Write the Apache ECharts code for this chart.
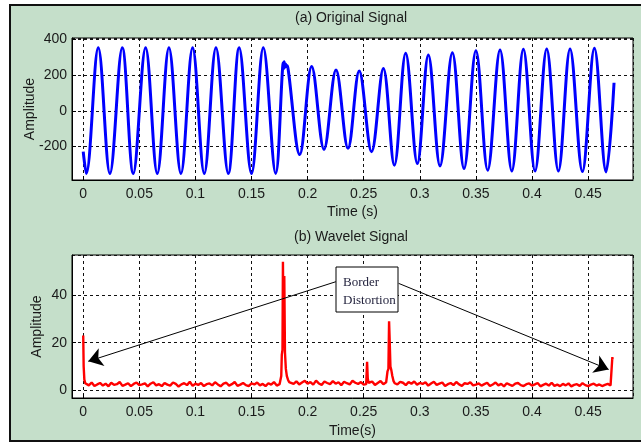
<!DOCTYPE html>
<html>
<head>
<meta charset="utf-8">
<script src="https://cdn.jsdelivr.net/npm/echarts@6/dist/echarts.min.js"></script>
<style>
  html, body { margin: 0; padding: 0; background: #fff; }
  #frame {
    position: absolute; left: 9px; top: 4px; width: 632px; height: 438px;
    box-sizing: border-box; background: #c5dfca;
    border-left: 2px solid #111; border-top: 2px solid #111; border-bottom: 2px solid #111;
  }
  #chart { position: absolute; left: 0; top: 0; width: 641px; height: 443px; }
</style>
</head>
<body>
<div id="frame"></div>
<div id="chart"></div>
<script>
// (a) original signal: extremes, [time s, amplitude]
const originalSignal = [
  [0, -228],
  [0.0027, -350], [0.0134, 352], [0.0238, -351], [0.0348, 352], [0.0446, -350],
  [0.0556, 352], [0.0660, -351], [0.0764, 352], [0.0871, -350], [0.0975, 352],
  [0.1079, -351], [0.1183, 352], [0.1293, -350], [0.1390, 352], [0.1500, -351],
  [0.1605, 352], [0.1715, -350],
  [0.1776, 230], [0.1781, 268], [0.1786, 236], [0.1791, 274], [0.1797, 242],
  [0.1803, 262], [0.1810, 248], [0.1818, 252], [0.1828, 225],
  [0.1930, -245], [0.2036, 247], [0.2146, -216], [0.2253, 228], [0.2360, -210],
  [0.2460, 222], [0.2570, -229], [0.2675, 237], [0.2773, -304], [0.2874, 322],
  [0.2978, -295], [0.3076, 312], [0.3180, -308], [0.3290, 325], [0.3394, -323],
  [0.3500, 336], [0.3605, -332], [0.3715, 340], [0.3820, -336], [0.3923, 344],
  [0.4027, -336], [0.4131, 346], [0.4235, -337], [0.4339, 346], [0.4449, -340],
  [0.4556, 350], [0.4660, -342], [0.4731, 157]
];

// (b) wavelet signal: baseline samples every 2.5 ms, plus the spikes
const waveletStep = 0.0025;
const waveletBaseline = [
  2.7, 2.1, 3.3, 1.8, 2.5, 3.1, 2.0, 2.8, 1.7, 3.2, 2.3, 2.6, 3.5, 1.9, 2.4, 3.0, 1.8, 2.7, 3.3, 2.2,
  2.5, 2.9, 1.7, 2.8, 3.4, 2.1, 2.6, 1.8, 3.1, 2.4, 2.0, 3.3, 2.7, 1.6, 2.5, 3.0, 2.2, 3.6, 1.9, 2.8,
  2.3, 3.1, 1.8, 2.6, 2.9, 2.1, 3.4, 2.5, 1.7, 2.8, 3.2, 2.0, 2.6, 3.5, 1.9, 2.4, 3.1, 2.2, 1.8, 2.9,
  2.5, 3.3, 2.1, 2.7, 1.8, 3.0, 2.4, 3.5, 2.0, 2.6, 3.2, 2.3, 3.9, 3.1, 2.7, 3.8, 2.5, 3.3, 4.0, 2.8,
  3.5, 2.4, 4.1, 2.9, 2.3, 3.7, 3.1, 2.6, 3.9, 2.8, 3.4, 2.2, 3.6, 3.0, 2.5, 4.0, 3.2, 2.7, 3.5, 2.4,
  3.3, 2.8, 3.7, 2.3, 3.1, 3.9, 2.6, 3.4, 2.1, 3.8, 2.9, 2.5, 3.6, 3.2, 2.2, 3.5, 2.8, 3.7, 2.4, 3.1,
  2.7, 3.4, 2.0, 2.9, 3.6, 2.3, 2.8, 3.3, 1.8, 2.6, 3.1, 2.2, 3.5, 2.5, 1.9, 3.0, 2.7, 3.4, 2.1, 2.4,
  2.9, 2.0, 2.6, 3.2, 1.8, 2.5, 3.3, 2.1, 2.7, 1.7, 3.0, 2.4, 1.9, 2.8, 3.1, 2.2, 1.8, 2.6, 2.9, 2.0,
  2.5, 3.1, 1.7, 2.3, 2.8, 2.0, 3.2, 1.9, 2.4, 1.8, 2.7, 2.1, 2.9, 1.7, 2.3, 2.6, 1.9, 3.0, 2.2, 1.8,
  2.4, 2.8, 2.0, 2.5, 1.8, 2.3, 2.7, 2.1
];
const spikeStart = [[0, 23], [0.0004, 10], [0.0010, 4.5], [0.0018, 3]];
const spikeSag = [
  [0.1755, 2.8], [0.1765, 6], [0.1770, 15], [0.1776, 17], [0.1780, 54], [0.1786, 20],
  [0.1792, 48], [0.1798, 16], [0.1806, 9], [0.1815, 6], [0.1825, 4.5], [0.1835, 3.5]
];
const spikeRecover1 = [[0.2522, 2.6], [0.2530, 12], [0.2536, 5], [0.2543, 3.2]];
const spikeRecover2 = [
  [0.2702, 3.2], [0.2712, 8], [0.2720, 9], [0.2726, 29], [0.2732, 20], [0.2738, 10],
  [0.2746, 8.5], [0.2755, 6], [0.2765, 4], [0.2776, 3]
];
const spikeEnd = [[0.4706, 2.0], [0.4712, 2.4], [0.4716, 14], [0.4718, 13]];

// annotation arrows: [from (box edge), to (arrow tip)] in data coords
const arrowLines = [
  [[0.2252, 45.6], [0.0045, 12.2]],
  [[0.2811, 44.9], [0.4683, 8.8]]
];

const timeRange = [-0.01, 0.49];
const originalRange = [-387, 407];
const waveletRange = [-3.2, 56.8];

const spikes = [spikeStart, spikeSag, spikeRecover1, spikeRecover2, spikeEnd];
const waveletData = [];
waveletBaseline.forEach((v, i) => {
  const t = +(waveletStep * (i + 1)).toFixed(4);
  const inSpike = spikes.some(s => t >= s[0][0] && t <= s[s.length - 1][0]);
  if (!inSpike) waveletData.push([t, v]);
});
spikes.forEach(s => waveletData.push(...s));
waveletData.sort((a, b) => a[0] - b[0]);

const chart = echarts.init(document.getElementById('chart'));

const textColor = '#1a1a1a';
const font = 'Liberation Sans';

const xAxisBase = (gridIndex, name, nameGap) => ({
  gridIndex,
  type: 'value',
  min: timeRange[0],
  max: timeRange[1],
  splitNumber: 10,
  name,
  nameLocation: 'middle',
  nameGap,
  nameMoveOverlap: false,
  nameTextStyle: { fontSize: 14, color: textColor, fontFamily: font },
  axisLine: { show: true, onZero: false, lineStyle: { color: '#000', width: 1 } },
  axisTick: { show: true, inside: true, length: 4, lineStyle: { color: '#000' } },
  axisLabel: { showMinLabel: false, showMaxLabel: false, fontSize: 14, color: textColor, fontFamily: font, margin: 7 },
  splitLine: { show: true, lineStyle: { color: '#111', width: 1, type: [3, 3] } }
});

const yAxisBase = (gridIndex, range, splitNumber, nameGap) => ({
  gridIndex,
  type: 'value',
  min: range[0],
  max: range[1],
  splitNumber,
  name: 'Amplitude',
  nameLocation: 'middle',
  nameGap,
  nameMoveOverlap: false,
  nameTextStyle: { fontSize: 14, color: textColor, fontFamily: font },
  axisLine: { show: true, onZero: false, lineStyle: { color: '#000', width: 1 } },
  axisTick: { show: true, inside: true, length: 4, lineStyle: { color: '#000' } },
  axisLabel: { showMinLabel: false, showMaxLabel: false, fontSize: 14, color: textColor, fontFamily: font, margin: 5 },
  splitLine: { show: true, lineStyle: { color: '#111', width: 1, type: [3, 3] } }
});

const option = {
  animation: false,
  grid: [
    { left: 72, top: 38, width: 561, height: 142, show: true, backgroundColor: '#fff', borderColor: '#000', borderWidth: 1, outerBoundsMode: 'none' },
    { left: 72, top: 255, width: 561, height: 143, show: true, backgroundColor: '#fff', borderColor: '#000', borderWidth: 1, outerBoundsMode: 'none' }
  ],
  xAxis: [xAxisBase(0, 'Time (s)', 25), xAxisBase(1, 'Time(s)', 26)],
  yAxis: [yAxisBase(0, originalRange, 4, 35), yAxisBase(1, waveletRange, 3, 28)],
  series: [
    {
      type: 'line',
      xAxisIndex: 0,
      yAxisIndex: 0,
      data: originalSignal,
      smooth: 0.36,
      showSymbol: false,
      lineStyle: { color: '#0000ff', width: 3 }
    },
    {
      type: 'line',
      xAxisIndex: 1,
      yAxisIndex: 1,
      data: waveletData,
      showSymbol: false,
      lineStyle: { color: '#ff0000', width: 2.4 },
      markLine: {
        silent: true,
        animation: false,
        symbol: ['none', 'arrow'],
        symbolSize: 14,
        label: { show: false },
        lineStyle: { color: '#000', width: 1, type: 'solid' },
        emphasis: { disabled: true },
        data: arrowLines.map(([from, to]) => [{ coord: from }, { coord: to }])
      }
    }
  ],
  graphic: [
    { type: 'text', x: 351, y: 18, style: { text: '(a) Original Signal', align: 'center', verticalAlign: 'middle', font: '14px "Liberation Sans"', fill: textColor } },
    { type: 'text', x: 351, y: 237, style: { text: '(b) Wavelet Signal', align: 'center', verticalAlign: 'middle', font: '14px "Liberation Sans"', fill: textColor } },
    { type: 'rect', x: 336, y: 267, z: 100, shape: { width: 62, height: 45 }, style: { fill: '#fff', stroke: '#000', lineWidth: 1 } },
    { type: 'text', x: 343, y: 283, z: 101, style: { text: 'Border', align: 'left', verticalAlign: 'middle', font: '13px "Liberation Serif"', fill: '#1f1f3a' } },
    { type: 'text', x: 343, y: 301, z: 101, style: { text: 'Distortion', align: 'left', verticalAlign: 'middle', font: '13px "Liberation Serif"', fill: '#1f1f3a' } }
  ]
};

chart.setOption(option);
</script>
</body>
</html>
